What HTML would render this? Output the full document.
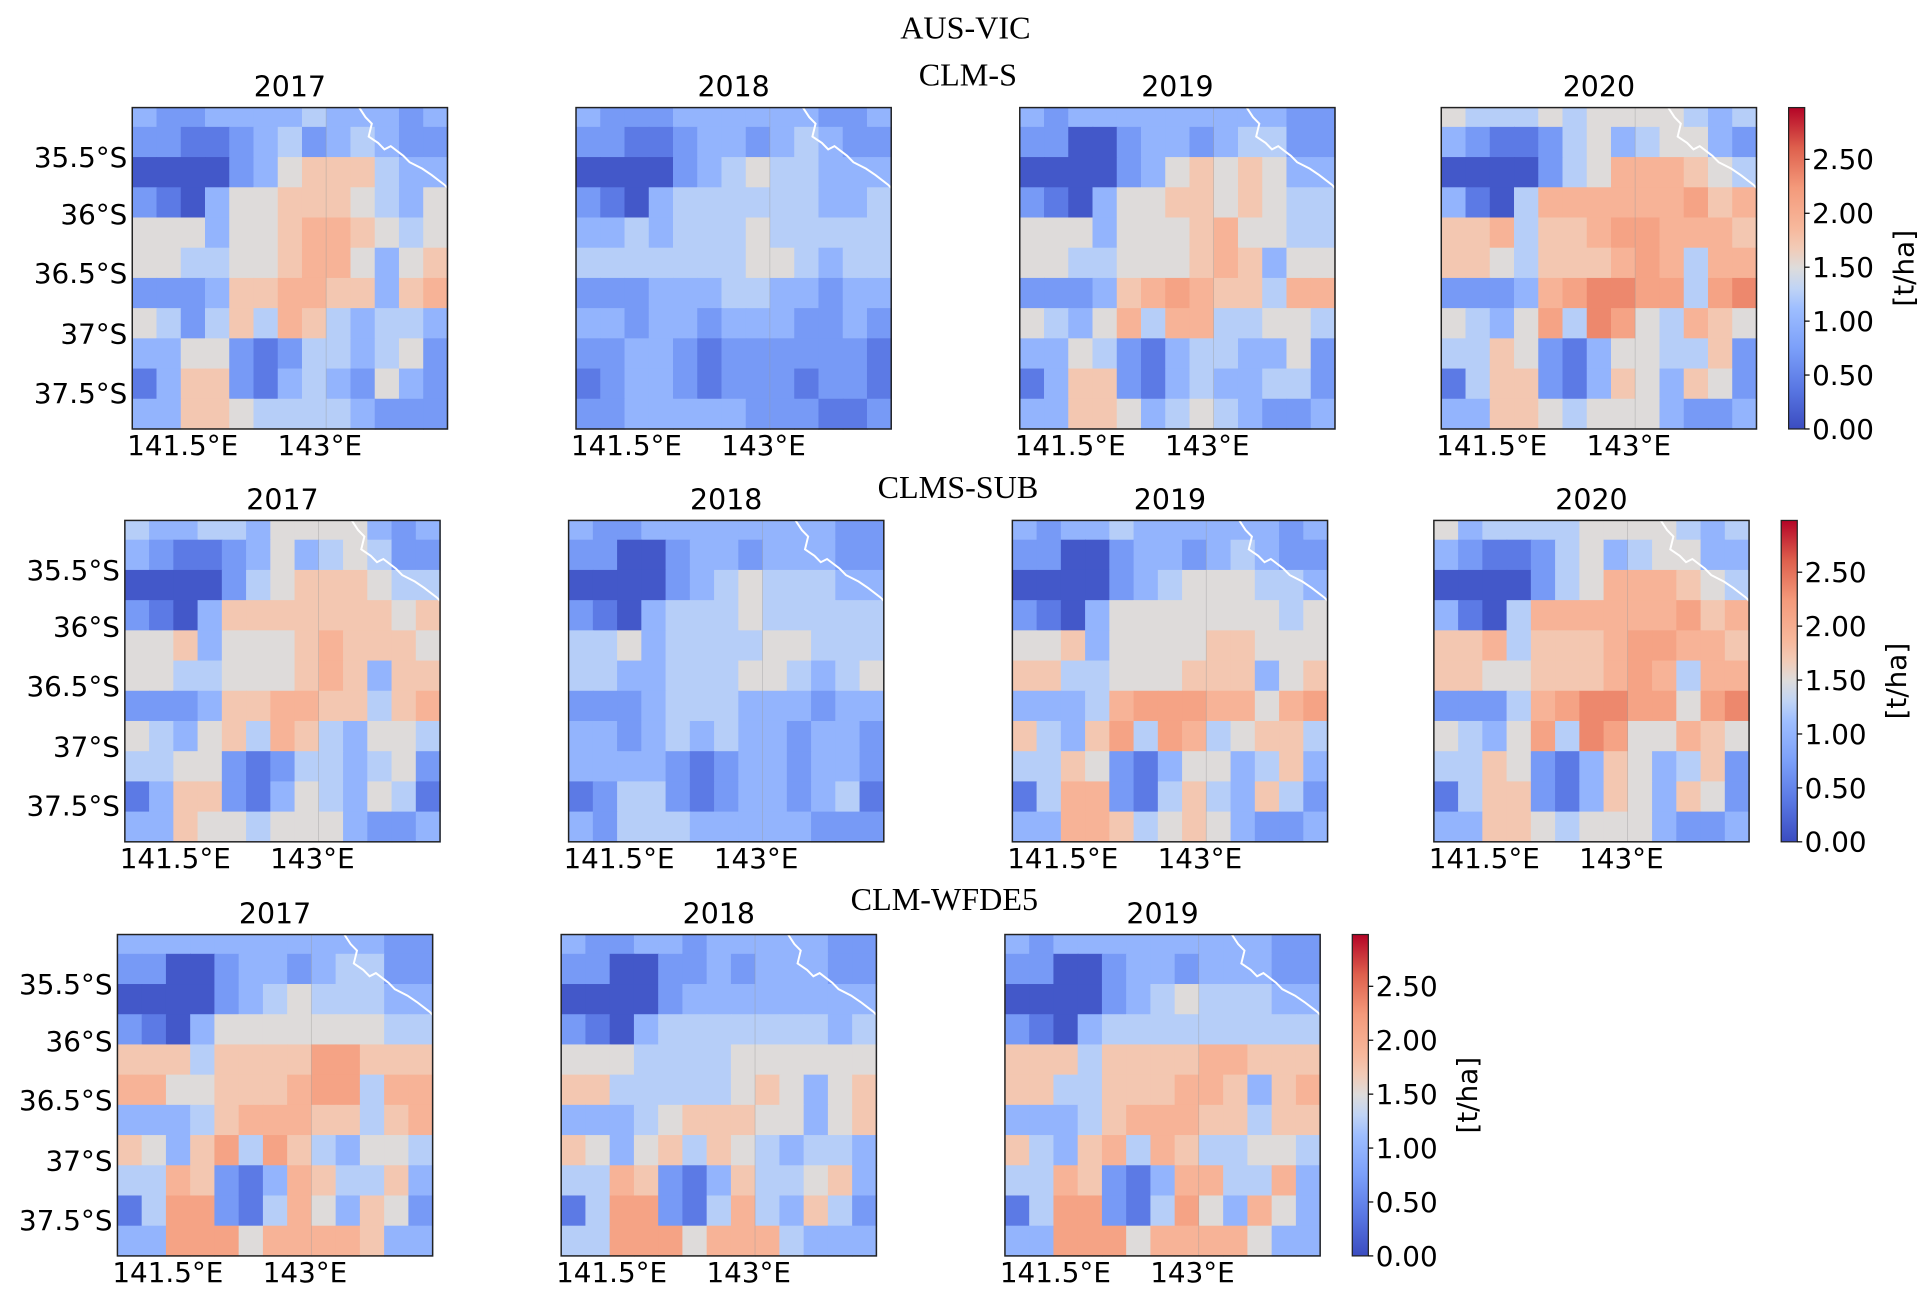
<!DOCTYPE html>
<html><head><meta charset="utf-8"><style>
html,body{margin:0;padding:0;background:#fff;}
svg{display:block;}
.tk{font-family:"DejaVu Sans","Liberation Sans",sans-serif;font-size:22.5px;fill:#000;}
.yr{font-family:"DejaVu Sans","Liberation Sans",sans-serif;font-size:23px;fill:#000;}
.ttl{font-family:"Liberation Serif",serif;font-size:26px;fill:#000;}
</style></head><body>
<svg id="fig" width="1932" height="1296" viewBox="0 0 1563 1048.4" xmlns="http://www.w3.org/2000/svg">
<defs>
<linearGradient id="cbgrad" x1="0" y1="1" x2="0" y2="0">
<stop offset="0" stop-color="#3b4cc0"/><stop offset="0.125" stop-color="#5977e3"/>
<stop offset="0.25" stop-color="#7b9ff9"/><stop offset="0.375" stop-color="#9ebeff"/>
<stop offset="0.4375" stop-color="#c0d4f5"/><stop offset="0.5" stop-color="#dddcdc"/>
<stop offset="0.5625" stop-color="#f2cbb7"/><stop offset="0.625" stop-color="#f7b89c"/>
<stop offset="0.75" stop-color="#f49a7b"/><stop offset="0.875" stop-color="#de604d"/>
<stop offset="1" stop-color="#b40426"/>
</linearGradient>
</defs>
<text class="ttl" x="781" y="31" text-anchor="middle">AUS-VIC</text>
<text class="ttl" x="783" y="69" text-anchor="middle">CLM-S</text>
<text class="ttl" x="775" y="403" text-anchor="middle">CLMS-SUB</text>
<text class="ttl" x="764" y="736" text-anchor="middle">CLM-WFDE5</text>
<g id="plots"></g>
</svg>
<script>
// Yield grids (digit class -> t/ha via digitValues), 11 rows x 13 cols, north to south
const clmS2017=["3223333433323","2211234234322","0000235666433","2103556665435","5553556776545","5544556775356","2223667766367","5424647643443","3355212443452","1366213432532","3366544443222"];
const clmS2018=["3222333333223","2211233234322","0000234544333","2103444444334","3343444544444","4444444554344","2223334433233","3323323332232","2233212222221","1233212221221","2233333222112"];
const clmS2019=["3233333333322","2200233234422","0000235656533","2103556656544","5553555675544","5544555676355","2223678766477","5435747744554","3354213443352","1366213433442","3366534543223"];
const clmS2020=["5444545555434","3211245345532","0000245777654","3104777777867","6674667887776","6654666787477","2223789988489","5435849854765","4465213554462","1466213653652","3366545553223"];
const subS2017=["4334435555323","3211235345422","0000245666544","2103666666656","5563555676665","5544555676366","2223667766467","5435647643554","4455212443452","1366213543541","3365545553223"];
const subS2018=["3223333333322","2200233233322","0000234544433","2103444544444","4453444455444","4433444554345","2223444333233","3323434332332","3333212332332","1244212332341","3244433333222"];
const subS2019=["3233433333323","2200233234322","0000234555443","2103555555545","5563555566555","6644555666356","3334788877578","6436848745664","4465213553463","1477214643642","3377645653223"];
const subS2020=["5344445555434","3211245345533","0000245777654","3104777777867","6674666788776","6655666787477","2224789988589","5435849855765","4465213653462","1466213653652","3366545553223"];
const wfd2017=["3333333333322","2200233234422","0000234544433","2103555555544","6664666688666","7755666788477","3334677766467","6536848643554","4476213764463","1488214753652","3388857777633"];
const wfd2018=["3223323333322","2200223233322","0000233333333","2103444444434","5554444555555","6644444565356","3334566655356","6535646543443","4476213644563","1488214743642","4488857774333"];
const wfd2019=["3233333333322","2200233233322","0000234544433","2103444444444","6664666677666","6644666776367","3334677766466","6436747644554","4476213774473","1488214853753","3388857777533"];
const digitValues=[0.1,0.4,0.7,1.0,1.25,1.5,1.72,1.92,2.12,2.35];
const cbTicks=[0,0.5,1.0,1.5,2.0,2.5];
const cbTickLabels=["0.00","0.50","1.00","1.50","2.00","2.50"];
const latTicks=["35.5°S","36°S","36.5°S","37°S","37.5°S"];
const lonTicks=["141.5°E","143°E"];
const years=["2017","2018","2019","2020"];
const vmax=2.98;

const NS="http://www.w3.org/2000/svg";
const cmPos=[0,0.125,0.25,0.375,0.4375,0.5,0.5625,0.625,0.75,0.875,1];
const cmCol=["#3b4cc0","#5977e3","#7b9ff9","#9ebeff","#c0d4f5","#dddcdc","#f2cbb7","#f7b89c","#f49a7b","#de604d","#b40426"];
function hex(h){return [parseInt(h.substr(1,2),16),parseInt(h.substr(3,2),16),parseInt(h.substr(5,2),16)];}
function cmap(v){const t=Math.max(0,Math.min(1,v/vmax));let i=0;while(i<cmPos.length-2&&t>cmPos[i+1])i++;
 const f=(t-cmPos[i])/(cmPos[i+1]-cmPos[i]);const a=hex(cmCol[i]),b=hex(cmCol[i+1]);
 return "rgb("+a.map((c,k)=>Math.round(c+(b[k]-c)*f)).join(",")+")";}
function el(tag,attrs,parent){const e=document.createElementNS(NS,tag);for(const k in attrs)e.setAttribute(k,attrs[k]);parent.appendChild(e);return e;}

const PW=255,PH=260;
const rowEdges=[0,0.06];for(let i=1;i<=10;i++)rowEdges.push(0.06+0.094*i);
const latFrac=[0.154,0.331,0.515,0.704,0.888];
const lonFrac=[0.16,0.595];
const root=document.getElementById('plots');

function panel(grid,x0,y0,title,showY,name){
 const g=el('g',{},root);
 
 
 const nC=13;
 for(let r=0;r<grid.length;r++){
  const ya=y0+rowEdges[r]*PH, yb=y0+Math.min(1,rowEdges[r+1])*PH;
  for(let c=0;c<nC;c++){
   const v=digitValues[parseInt(grid[r][c])];
   const xa=x0+c*PW/nC;
   const rc=el('rect',{x:xa,y:ya,width:PW/nC+0.6,height:(yb-ya)+0.6,fill:cmap(v)},g);
   
   
  }
 }
 el('line',{x1:x0+PW*0.615,y1:y0,x2:x0+PW*0.615,y2:y0+PH,stroke:"#999",'stroke-width':0.5,opacity:0.6},g);
 const cx=[0.72,0.74,0.76,0.75,0.78,0.80,0.82,0.86,0.88,0.92,0.95,0.99,1.0];
 const cy=[0.0,0.03,0.05,0.09,0.11,0.13,0.12,0.15,0.17,0.19,0.21,0.24,0.25];
 const coast=el('polyline',{points:cx.map((v,i)=>(x0+v*PW)+","+(y0+cy[i]*PH)).join(" "),fill:"none",stroke:"#fff",'stroke-width':1.6},g);
 
 
 const fr=el('rect',{x:x0,y:y0,width:PW,height:PH,fill:"none",stroke:"#222",'stroke-width':1.2},g);
 
 
 const t=el('text',{x:x0+PW/2,y:y0-9,'text-anchor':'middle',class:'yr'},g);t.textContent=title;
 
 
 lonTicks.forEach((s,i)=>{const tx=el('text',{x:x0+lonFrac[i]*PW,y:y0+PH+21,'text-anchor':'middle',class:'tk'},g);tx.textContent=s;
  
  });
 if(showY)latTicks.forEach((s,i)=>{const ty=el('text',{x:x0-4,y:y0+latFrac[i]*PH+8,'text-anchor':'end',class:'tk'},g);ty.textContent=s;
  
  });
}
function colorbar(x0,y0){
 const g=el('g',{},root);
 
 
 el('rect',{x:x0,y:y0,width:13,height:PH,fill:"url(#cbgrad)",stroke:"#222",'stroke-width':1},g);
 cbTicks.forEach((v,i)=>{const y=y0+PH-v/vmax*PH;
  el('line',{x1:x0+13,y1:y,x2:x0+17,y2:y,stroke:"#000",'stroke-width':1},g);
  const t=el('text',{x:x0+19,y:y+8,class:'tk'},g);t.textContent=cbTickLabels[i];
  
  });
 const lb=el('text',{x:0,y:0,'text-anchor':'middle',class:'tk',transform:`translate(${x0+101},${y0+PH/2}) rotate(-90)`},g);lb.textContent="[t/ha]";
 
 
}
const rows=[
 {grids:[clmS2017,clmS2018,clmS2019,clmS2020],xs:[107,466,825,1166],y:87,cb:1447,key:'clm-s'},
 {grids:[subS2017,subS2018,subS2019,subS2020],xs:[101,460,819,1160],y:421,cb:1441,key:'clms-sub'},
 {grids:[wfd2017,wfd2018,wfd2019],xs:[95,454,813],y:756,cb:1094,key:'clm-wfde5'}
];
rows.forEach(r=>{
 r.grids.forEach((gd,i)=>panel(gd,r.xs[i],r.y,years[i],i===0,r.key+'-map-'+years[i]));
 colorbar(r.cb,r.y);
});
</script>
</body></html>
